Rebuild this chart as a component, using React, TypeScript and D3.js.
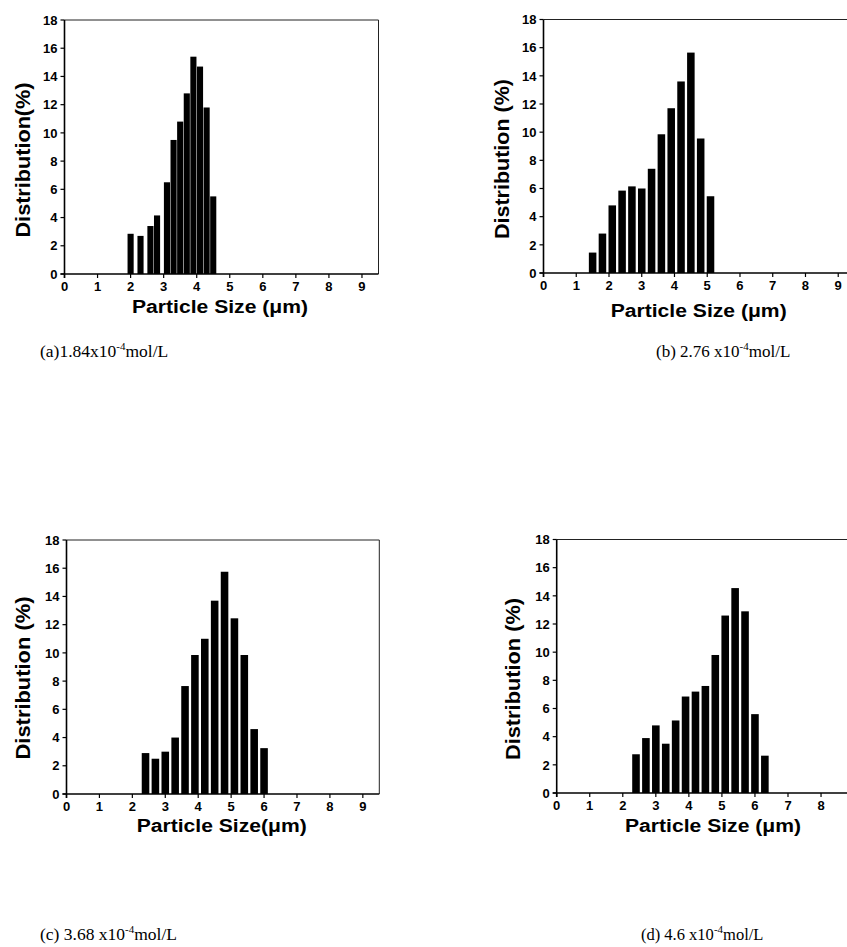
import React from 'react';
import * as d3 from 'd3';

// bin centres (um) and distribution (%)
const sizesA = [2.0, 2.3, 2.6, 2.8, 3.1, 3.3, 3.5, 3.7, 3.9, 4.1, 4.3, 4.5];
const distA = [2.85, 2.7, 3.4, 4.15, 6.5, 9.5, 10.8, 12.8, 15.4, 14.7, 11.8, 5.5];

const sizesB = [1.5, 1.8, 2.1, 2.4, 2.7, 3.0, 3.3, 3.6, 3.9, 4.2, 4.5, 4.8, 5.1];
const distB = [1.45, 2.8, 4.8, 5.85, 6.15, 6.0, 7.4, 9.85, 11.7, 13.6, 15.65, 9.55, 5.45];

const sizesC = [2.4, 2.7, 3.0, 3.3, 3.6, 3.9, 4.2, 4.5, 4.8, 5.1, 5.4, 5.7, 6.0];
const distC = [2.9, 2.5, 3.0, 4.0, 7.65, 9.85, 11.0, 13.7, 15.75, 12.45, 9.85, 4.6, 3.25];

const sizesD = [2.4, 2.7, 3.0, 3.3, 3.6, 3.9, 4.2, 4.5, 4.8, 5.1, 5.4, 5.7, 6.0, 6.3];
const distD = [2.75, 3.9, 4.8, 3.5, 5.15, 6.85, 7.2, 7.6, 9.8, 12.6, 14.55, 12.9, 5.6, 2.65];

const xTicks = [0, 1, 2, 3, 4, 5, 6, 7, 8, 9];
const yTicks = [0, 2, 4, 6, 8, 10, 12, 14, 16, 18];

const yTitles = ['Distribution(%)', 'Distribution (%)', 'Distribution (%)', 'Distribution (%)'];
const xTitles = ['Particle Size (\u03bcm)', 'Particle Size (\u03bcm)', 'Particle Size(\u03bcm)', 'Particle Size (\u03bcm)'];
const captionHeads = ['(a)1.84x10', '(b) 2.76 x10', '(c) 3.68 x10', '(d) 4.6 x10'];

const W = 847;
const sansBold = '"Liberation Sans", Arial, sans-serif';

// where each panel sits on the page
const panels = [
  { sizes: sizesA, dist: distA, left: 64.5, right: 378.5, top: 20, bottom: 274, barW: 0.185,
    yt: { x: 30, y: 160, len: 155 }, xt: { x: 220, y: 313, len: 176 }, cap: { x: 40, y: 357, fs: 17.5 } },
  { sizes: sizesB, dist: distB, left: 543.5, right: 854.6, top: 19.5, bottom: 273, barW: 0.23,
    yt: { x: 509, y: 159, len: 160 }, xt: { x: 698.7, y: 317, len: 176 }, cap: { x: 656, y: 357, fs: 17 } },
  { sizes: sizesC, dist: distC, left: 66.5, right: 379.3, top: 540, bottom: 794, barW: 0.23,
    yt: { x: 30, y: 678, len: 163 }, xt: { x: 221.7, y: 832, len: 170 }, cap: { x: 40, y: 940, fs: 17.5 } },
  { sizes: sizesD, dist: distD, left: 556.7, right: 870.6, top: 539.5, bottom: 793, barW: 0.23,
    yt: { x: 520, y: 679, len: 162 }, xt: { x: 713, y: 832, len: 176 }, cap: { x: 641, y: 940, fs: 16.5 } },
];

const Panel = ({ p, i }: { p: any; i: number }) => {
  const x = d3.scaleLinear().domain([0, 9.5]).range([p.left, p.right]);
  const y = d3.scaleLinear().domain([0, 18]).range([p.bottom, p.top]);
  const bw = x(p.barW) - x(0);

  return (
    <g>
      {p.sizes.map((s: number, j: number) => (
        <rect key={j} x={x(s) - bw / 2} y={y(p.dist[j])} width={bw} height={y(0) - y(p.dist[j])} fill="#000" />
      ))}

      {/* frame: top/right lighter than the axes */}
      <line x1={x(0)} x2={x(9.5)} y1={y(18)} y2={y(18)} stroke="#222" strokeWidth={1} />
      <line x1={x(9.5)} x2={x(9.5)} y1={y(18)} y2={y(0)} stroke="#222" strokeWidth={1} />
      <line x1={x(0)} x2={x(0)} y1={y(18)} y2={y(0) + 4} stroke="#000" strokeWidth={1.6} />
      <line x1={x(0) - 4} x2={x(9.5)} y1={y(0)} y2={y(0)} stroke="#000" strokeWidth={1.6} />

      {yTicks.map((t) => (
        <g key={'y' + t}>
          <line x1={x(0) - 4} x2={x(0)} y1={y(t)} y2={y(t)} stroke="#000" strokeWidth={1.2} />
          <text x={x(0) - 7} y={y(t)} dy="0.36em" textAnchor="end" fontFamily={sansBold}
            fontWeight="bold" fontSize={13}>{t}</text>
        </g>
      ))}
      {xTicks.filter((t) => x(t) + 4 < W).map((t) => (
        <g key={'x' + t}>
          <line x1={x(t)} x2={x(t)} y1={y(0)} y2={y(0) + 4} stroke="#000" strokeWidth={1.2} />
          <text x={x(t)} y={y(0) + 17} textAnchor="middle" fontFamily={sansBold}
            fontWeight="bold" fontSize={13}>{t}</text>
        </g>
      ))}

      <text transform={`translate(${p.yt.x},${p.yt.y}) rotate(-90)`} textAnchor="middle"
        fontFamily={sansBold} fontWeight="bold" fontSize={20}
        textLength={p.yt.len} lengthAdjust="spacingAndGlyphs">{yTitles[i]}</text>
      <text x={p.xt.x} y={p.xt.y} textAnchor="middle" fontFamily={sansBold} fontWeight="bold"
        fontSize={18} textLength={p.xt.len} lengthAdjust="spacingAndGlyphs">{xTitles[i]}</text>

      <text x={p.cap.x} y={p.cap.y} fontFamily='"Liberation Serif", "Times New Roman", serif' fontSize={p.cap.fs}>
        <tspan>{captionHeads[i]}</tspan>
        <tspan dy={-7} fontSize={11}>-4</tspan>
        <tspan dy={7}>mol/L</tspan>
      </text>
    </g>
  );
};

export default function App() {
  return (
    <svg width={W} height={947} style={{ position: 'absolute', left: 0, top: 0, background: '#fff' }}>
      {panels.map((p, i) => (
        <Panel key={i} p={p} i={i} />
      ))}
    </svg>
  );
}
